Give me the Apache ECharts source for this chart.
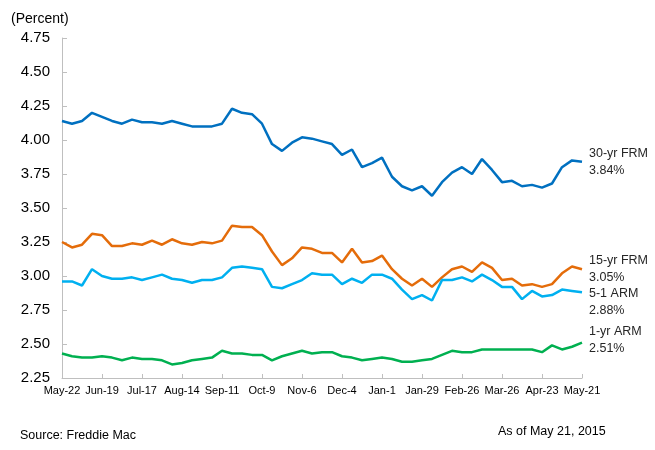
<!DOCTYPE html>
<html>
<head>
<meta charset="utf-8">
<script src="https://cdn.jsdelivr.net/npm/echarts@6/dist/echarts.min.js"></script>
<style>html,body{margin:0;padding:0;background:#fff;}#c{width:655px;height:450px;}</style>
</head>
<body>
<div id="c"></div>
<script>
const weeks = ["May-22","May-29","Jun-5","Jun-12","Jun-19","Jun-26","Jul-3","Jul-10","Jul-17","Jul-24","Jul-31","Aug-7","Aug-14","Aug-21","Aug-28","Sep-4","Sep-11","Sep-18","Sep-25","Oct-2","Oct-9","Oct-16","Oct-23","Oct-30","Nov-6","Nov-13","Nov-20","Nov-27","Dec-4","Dec-11","Dec-18","Dec-25","Jan-1","Jan-8","Jan-15","Jan-22","Jan-29","Feb-5","Feb-12","Feb-19","Feb-26","Mar-5","Mar-12","Mar-19","Mar-26","Apr-2","Apr-9","Apr-16","Apr-23","Apr-30","May-7","May-14","May-21"];
const frm30 = [4.14,4.12,4.14,4.20,4.17,4.14,4.12,4.15,4.13,4.13,4.12,4.14,4.12,4.10,4.10,4.10,4.12,4.23,4.20,4.19,4.12,3.97,3.92,3.98,4.02,4.01,3.99,3.97,3.89,3.93,3.80,3.83,3.87,3.73,3.66,3.63,3.66,3.59,3.69,3.76,3.80,3.75,3.86,3.78,3.69,3.70,3.66,3.67,3.65,3.68,3.80,3.85,3.84];
const frm15 = [3.25,3.21,3.23,3.31,3.30,3.22,3.22,3.24,3.23,3.26,3.23,3.27,3.24,3.23,3.25,3.24,3.26,3.37,3.36,3.36,3.30,3.18,3.08,3.13,3.21,3.20,3.17,3.17,3.10,3.20,3.10,3.11,3.15,3.05,2.98,2.93,2.98,2.92,2.99,3.05,3.07,3.03,3.10,3.06,2.97,2.98,2.93,2.94,2.92,2.94,3.02,3.07,3.05];
const arm51 = [2.96,2.96,2.93,3.05,3.00,2.98,2.98,2.99,2.97,2.99,3.01,2.98,2.97,2.95,2.97,2.97,2.99,3.06,3.07,3.06,3.05,2.92,2.91,2.94,2.97,3.02,3.01,3.01,2.94,2.98,2.95,3.01,3.01,2.98,2.90,2.83,2.86,2.82,2.97,2.97,2.99,2.96,3.01,2.97,2.92,2.92,2.83,2.89,2.85,2.86,2.90,2.89,2.88];
const arm1 = [2.43,2.41,2.40,2.40,2.41,2.40,2.38,2.40,2.39,2.39,2.38,2.35,2.36,2.38,2.39,2.40,2.45,2.43,2.43,2.42,2.42,2.38,2.41,2.43,2.45,2.43,2.44,2.44,2.41,2.40,2.38,2.39,2.40,2.39,2.37,2.37,2.38,2.39,2.42,2.45,2.44,2.44,2.46,2.46,2.46,2.46,2.46,2.46,2.44,2.49,2.46,2.48,2.51];
const yTicks = ["2.25","2.50","2.75","3.00","3.25","3.50","3.75","4.00","4.25","4.50","4.75"];

const FONT = '"Liberation Sans", Arial, sans-serif';
function mk(name, data, color, offY) {
  return {
    name: name, type: 'line', data: data, symbol: 'none', smooth: false,
    lineStyle: { color: color, width: 2.5 }, itemStyle: { color: color },
    animation: false,
    endLabel: {
      show: true, distance: 7, offset: [0, offY],
      formatter: function (p) { return name + '\n' + p.value.toFixed(2) + '%'; },
      fontFamily: FONT, fontSize: 12.5, color: '#262626', lineHeight: 17, align: 'left'
    }
  };
}
const chart = echarts.init(document.getElementById('c'), null, { renderer: 'canvas' });
chart.setOption({
  backgroundColor: '#fff',
  animation: false,
  grid: { left: 62, right: 73, top: 38, bottom: 72, containLabel: false },
  title: [
    { text: '(Percent)', left: 6, top: 7, textStyle: { fontFamily: FONT, fontSize: 14, fontWeight: 'normal', color: '#000' } },
    { text: 'Source: Freddie Mac', left: 15, top: 424, textStyle: { fontFamily: FONT, fontSize: 12.5, fontWeight: 'normal', color: '#000' } },
    { text: 'As of May 21, 2015', left: 493, top: 420, textStyle: { fontFamily: FONT, fontSize: 12.5, fontWeight: 'normal', color: '#000' } }
  ],
  xAxis: {
    type: 'category', data: weeks, boundaryGap: false,
    axisLine: { lineStyle: { color: '#bfbfbf', width: 1 } },
    axisTick: { show: true, inside: true, length: 4, interval: 3, lineStyle: { color: '#bfbfbf' } },
    axisLabel: { interval: 3, fontFamily: FONT, fontSize: 11, color: '#000', margin: 7 },
    splitLine: { show: false }
  },
  yAxis: {
    type: 'value', min: 2.25, max: 4.75, interval: 0.25,
    axisLine: { show: true, lineStyle: { color: '#bfbfbf', width: 1 } },
    axisTick: { show: true, inside: true, length: 5, lineStyle: { color: '#bfbfbf' } },
    axisLabel: { fontFamily: FONT, fontSize: 15, color: '#000', margin: 12,
      formatter: function (v) { const s = v.toFixed(2); return yTicks.indexOf(s) >= 0 ? s : ''; } },
    splitLine: { show: false }
  },
  series: [
    mk('30-yr FRM', frm30, '#0070C0', 0),
    mk('15-yr FRM', frm15, '#E46C0A', 0),
    mk('5-1 ARM', arm51, '#00B0F0', 10),
    mk('1-yr ARM', arm1, '#00B050', -3)
  ]
});
</script>
</body>
</html>
